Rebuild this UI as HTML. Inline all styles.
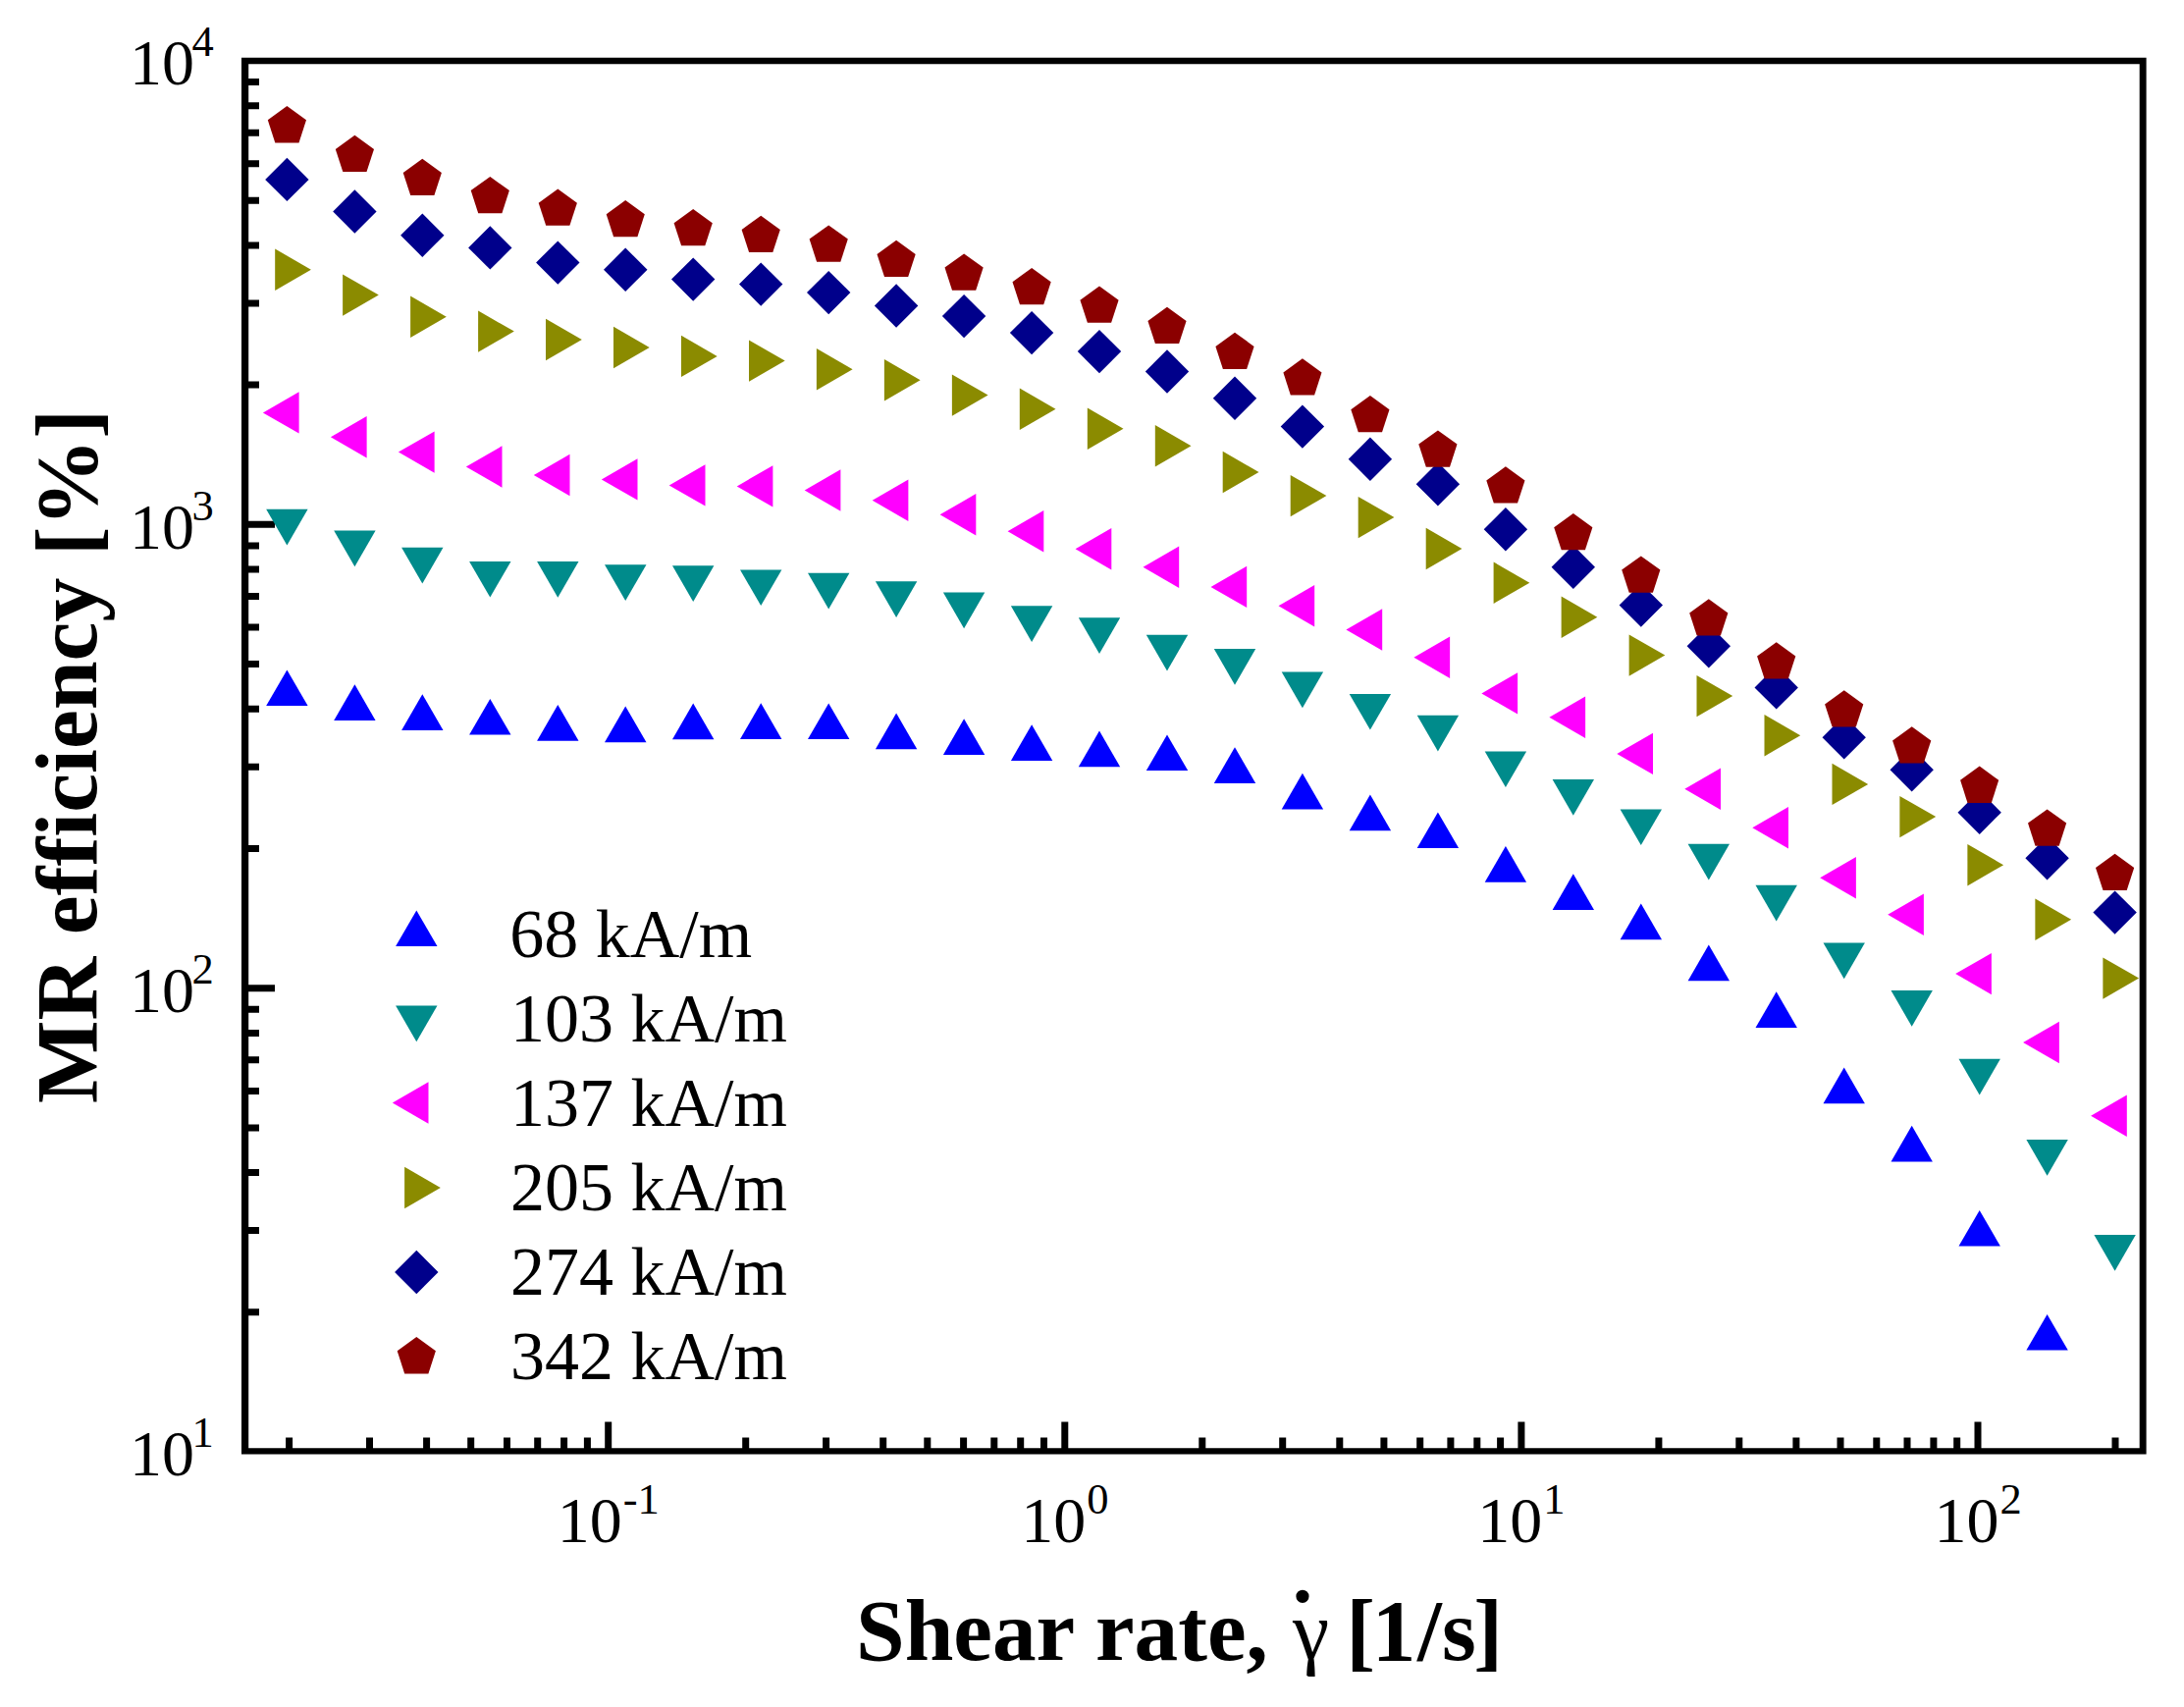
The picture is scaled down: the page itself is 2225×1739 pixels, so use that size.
<!DOCTYPE html>
<html lang="en"><head><meta charset="utf-8"><title>MR efficiency vs shear rate</title>
<style>
html,body{margin:0;padding:0;background:#fff;}
body{width:2225px;height:1739px;overflow:hidden;}
svg{display:block;}
text{font-family:"Liberation Serif","Times New Roman",serif;fill:#000;}
.tk{font-size:66px;}
.sup{font-size:44.5px;}
.lg{font-size:70px;}
.ttl{font-size:89.3px;font-weight:bold;}
.ytl{font-size:89.7px;font-weight:bold;}
</style></head>
<body>
<svg width="2225" height="1739" viewBox="0 0 2225 1739">
<rect width="2225" height="1739" fill="#fff"/>
<defs><clipPath id="cp"><rect x="253.0" y="65.5" width="1927.0" height="1410.0"/></clipPath></defs>
<path d="M249.5,1336.8h14.5M249.5,1253.6h14.5M249.5,1194.6h14.5M249.5,1148.9h14.5M249.5,1111.5h14.5M249.5,1079.8h14.5M249.5,1052.4h14.5M249.5,1028.3h14.5M249.5,1006.7h30.5M249.5,864.5h14.5M249.5,781.3h14.5M249.5,722.3h14.5M249.5,676.5h14.5M249.5,639.1h14.5M249.5,607.5h14.5M249.5,580.1h14.5M249.5,555.9h14.5M249.5,534.3h30.5M249.5,392.1h14.5M249.5,309.0h14.5M249.5,250.0h14.5M249.5,204.2h14.5M249.5,166.8h14.5M249.5,135.2h14.5M249.5,107.8h14.5M249.5,83.6h14.5M294.6,1479.0v-14.5M376.5,1479.0v-14.5M434.6,1479.0v-14.5M479.7,1479.0v-14.5M516.5,1479.0v-14.5M547.7,1479.0v-14.5M574.6,1479.0v-14.5M598.4,1479.0v-14.5M619.7,1479.0v-30.5M759.7,1479.0v-14.5M841.6,1479.0v-14.5M899.7,1479.0v-14.5M944.8,1479.0v-14.5M981.6,1479.0v-14.5M1012.8,1479.0v-14.5M1039.7,1479.0v-14.5M1063.5,1479.0v-14.5M1084.8,1479.0v-30.5M1224.8,1479.0v-14.5M1306.7,1479.0v-14.5M1364.8,1479.0v-14.5M1409.9,1479.0v-14.5M1446.7,1479.0v-14.5M1477.9,1479.0v-14.5M1504.8,1479.0v-14.5M1528.6,1479.0v-14.5M1549.9,1479.0v-30.5M1689.9,1479.0v-14.5M1771.8,1479.0v-14.5M1829.9,1479.0v-14.5M1875.0,1479.0v-14.5M1911.8,1479.0v-14.5M1943.0,1479.0v-14.5M1969.9,1479.0v-14.5M1993.7,1479.0v-14.5M2015.0,1479.0v-30.5M2155.0,1479.0v-14.5" stroke="#000" stroke-width="7" fill="none"/>
<g clip-path="url(#cp)">
<g fill="#0000ff">
<polygon points="292.4,682.4 271.2,719.1 313.6,719.1"/>
<polygon points="361.4,697.3 340.2,734.0 382.6,734.0"/>
<polygon points="430.3,707.3 409.1,744.0 451.5,744.0"/>
<polygon points="499.3,711.9 478.1,748.6 520.5,748.6"/>
<polygon points="568.3,718.1 547.1,754.8 589.5,754.8"/>
<polygon points="637.2,719.6 616.0,756.3 658.5,756.3"/>
<polygon points="706.2,716.5 685.0,753.2 727.4,753.2"/>
<polygon points="775.2,716.3 754.0,753.0 796.4,753.0"/>
<polygon points="844.2,716.4 823.0,753.1 865.4,753.1"/>
<polygon points="913.1,726.6 891.9,763.3 934.3,763.3"/>
<polygon points="982.1,732.3 960.9,769.0 1003.3,769.0"/>
<polygon points="1051.1,738.2 1029.9,774.9 1072.3,774.9"/>
<polygon points="1120.0,744.6 1098.8,781.3 1141.2,781.3"/>
<polygon points="1189.0,748.4 1167.8,785.1 1210.2,785.1"/>
<polygon points="1258.0,761.2 1236.8,797.9 1279.2,797.9"/>
<polygon points="1326.9,787.7 1305.7,824.4 1348.1,824.4"/>
<polygon points="1395.9,809.5 1374.7,846.2 1417.1,846.2"/>
<polygon points="1464.9,827.4 1443.7,864.1 1486.1,864.1"/>
<polygon points="1533.9,862.0 1512.7,898.7 1555.1,898.7"/>
<polygon points="1602.8,890.2 1581.6,926.9 1624.0,926.9"/>
<polygon points="1671.8,920.5 1650.6,957.2 1693.0,957.2"/>
<polygon points="1740.8,962.5 1719.6,999.2 1762.0,999.2"/>
<polygon points="1809.7,1010.3 1788.5,1047.0 1830.9,1047.0"/>
<polygon points="1878.7,1087.5 1857.5,1124.2 1899.9,1124.2"/>
<polygon points="1947.7,1146.7 1926.5,1183.4 1968.9,1183.4"/>
<polygon points="2016.7,1232.9 1995.5,1269.6 2037.9,1269.6"/>
<polygon points="2085.6,1338.9 2064.4,1375.6 2106.8,1375.6"/>
<polygon points="2154.6,1476.0 2133.4,1512.7 2175.8,1512.7"/>
</g>
<g fill="#008b8b">
<polygon points="292.4,555.5 271.2,518.8 313.6,518.8"/>
<polygon points="361.4,577.3 340.2,540.6 382.6,540.6"/>
<polygon points="430.3,594.5 409.1,557.8 451.5,557.8"/>
<polygon points="499.3,608.6 478.1,571.9 520.5,571.9"/>
<polygon points="568.3,608.8 547.1,572.1 589.5,572.1"/>
<polygon points="637.2,611.9 616.0,575.2 658.5,575.2"/>
<polygon points="706.2,613.0 685.0,576.3 727.4,576.3"/>
<polygon points="775.2,617.1 754.0,580.4 796.4,580.4"/>
<polygon points="844.2,620.5 823.0,583.8 865.4,583.8"/>
<polygon points="913.1,629.0 891.9,592.3 934.3,592.3"/>
<polygon points="982.1,640.3 960.9,603.6 1003.3,603.6"/>
<polygon points="1051.1,653.9 1029.9,617.2 1072.3,617.2"/>
<polygon points="1120.0,665.9 1098.8,629.2 1141.2,629.2"/>
<polygon points="1189.0,683.4 1167.8,646.7 1210.2,646.7"/>
<polygon points="1258.0,697.7 1236.8,661.0 1279.2,661.0"/>
<polygon points="1326.9,721.3 1305.7,684.6 1348.1,684.6"/>
<polygon points="1395.9,743.6 1374.7,706.9 1417.1,706.9"/>
<polygon points="1464.9,765.4 1443.7,728.7 1486.1,728.7"/>
<polygon points="1533.9,802.1 1512.7,765.4 1555.1,765.4"/>
<polygon points="1602.8,830.8 1581.6,794.1 1624.0,794.1"/>
<polygon points="1671.8,861.1 1650.6,824.4 1693.0,824.4"/>
<polygon points="1740.8,896.4 1719.6,859.7 1762.0,859.7"/>
<polygon points="1809.7,938.5 1788.5,901.8 1830.9,901.8"/>
<polygon points="1878.7,997.3 1857.5,960.6 1899.9,960.6"/>
<polygon points="1947.7,1045.7 1926.5,1009.0 1968.9,1009.0"/>
<polygon points="2016.7,1115.5 1995.5,1078.8 2037.9,1078.8"/>
<polygon points="2085.6,1197.7 2064.4,1161.0 2106.8,1161.0"/>
<polygon points="2154.6,1294.7 2133.4,1258.0 2175.8,1258.0"/>
</g>
<g fill="#ff00ff">
<polygon points="267.9,420.4 304.6,399.2 304.6,441.6"/>
<polygon points="336.9,445.2 373.6,424.0 373.6,466.4"/>
<polygon points="405.9,460.6 442.6,439.4 442.6,481.8"/>
<polygon points="474.8,475.5 511.5,454.3 511.5,496.7"/>
<polygon points="543.8,484.0 580.5,462.8 580.5,505.2"/>
<polygon points="612.8,488.4 649.5,467.2 649.5,509.6"/>
<polygon points="681.7,494.4 718.5,473.2 718.5,515.6"/>
<polygon points="750.7,495.4 787.4,474.2 787.4,516.6"/>
<polygon points="819.7,499.5 856.4,478.3 856.4,520.7"/>
<polygon points="888.7,509.8 925.4,488.6 925.4,531.0"/>
<polygon points="957.6,524.3 994.3,503.1 994.3,545.5"/>
<polygon points="1026.6,541.2 1063.3,520.0 1063.3,562.4"/>
<polygon points="1095.6,559.3 1132.3,538.1 1132.3,580.5"/>
<polygon points="1164.5,577.8 1201.2,556.6 1201.2,599.0"/>
<polygon points="1233.5,597.9 1270.2,576.7 1270.2,619.1"/>
<polygon points="1302.5,617.2 1339.2,596.0 1339.2,638.4"/>
<polygon points="1371.4,641.5 1408.2,620.3 1408.2,662.7"/>
<polygon points="1440.4,669.7 1477.1,648.5 1477.1,690.9"/>
<polygon points="1509.4,706.4 1546.1,685.2 1546.1,727.6"/>
<polygon points="1578.4,730.8 1615.1,709.6 1615.1,752.0"/>
<polygon points="1647.3,767.9 1684.0,746.7 1684.0,789.1"/>
<polygon points="1716.3,803.8 1753.0,782.6 1753.0,825.0"/>
<polygon points="1785.3,843.2 1822.0,822.0 1822.0,864.4"/>
<polygon points="1854.2,894.2 1890.9,873.0 1890.9,915.4"/>
<polygon points="1923.2,931.7 1959.9,910.5 1959.9,952.9"/>
<polygon points="1992.2,992.1 2028.9,970.9 2028.9,1013.3"/>
<polygon points="2061.1,1062.0 2097.9,1040.8 2097.9,1083.2"/>
<polygon points="2130.1,1136.8 2166.8,1115.6 2166.8,1158.0"/>
</g>
<g fill="#8b8b00">
<polygon points="316.9,274.7 280.2,253.5 280.2,295.9"/>
<polygon points="385.8,300.6 349.1,279.4 349.1,321.8"/>
<polygon points="454.8,322.7 418.1,301.5 418.1,343.9"/>
<polygon points="523.8,337.6 487.1,316.4 487.1,358.8"/>
<polygon points="592.8,346.0 556.0,324.8 556.0,367.2"/>
<polygon points="661.7,354.0 625.0,332.8 625.0,375.2"/>
<polygon points="730.7,362.9 694.0,341.7 694.0,384.1"/>
<polygon points="799.7,367.6 763.0,346.4 763.0,388.8"/>
<polygon points="868.6,376.2 831.9,355.0 831.9,397.4"/>
<polygon points="937.6,387.3 900.9,366.1 900.9,408.5"/>
<polygon points="1006.6,402.6 969.9,381.4 969.9,423.8"/>
<polygon points="1075.5,416.8 1038.8,395.6 1038.8,438.0"/>
<polygon points="1144.5,436.7 1107.8,415.5 1107.8,457.9"/>
<polygon points="1213.5,454.2 1176.8,433.0 1176.8,475.4"/>
<polygon points="1282.5,481.0 1245.7,459.8 1245.7,502.2"/>
<polygon points="1351.4,505.1 1314.7,483.9 1314.7,526.3"/>
<polygon points="1420.4,527.1 1383.7,505.9 1383.7,548.3"/>
<polygon points="1489.4,559.0 1452.7,537.8 1452.7,580.2"/>
<polygon points="1558.3,593.7 1521.6,572.5 1521.6,614.9"/>
<polygon points="1627.3,628.7 1590.6,607.5 1590.6,649.9"/>
<polygon points="1696.3,667.6 1659.6,646.4 1659.6,688.8"/>
<polygon points="1765.2,709.1 1728.5,687.9 1728.5,730.3"/>
<polygon points="1834.2,749.2 1797.5,728.0 1797.5,770.4"/>
<polygon points="1903.2,798.9 1866.5,777.7 1866.5,820.1"/>
<polygon points="1972.2,832.1 1935.4,810.9 1935.4,853.3"/>
<polygon points="2041.1,881.2 2004.4,860.0 2004.4,902.4"/>
<polygon points="2110.1,936.8 2073.4,915.6 2073.4,958.0"/>
<polygon points="2179.1,996.6 2142.4,975.4 2142.4,1017.8"/>
</g>
<g fill="#00008b">
<polygon points="292.4,160.7 314.6,182.9 292.4,205.1 270.2,182.9"/>
<polygon points="361.4,193.3 383.6,215.5 361.4,237.7 339.2,215.5"/>
<polygon points="430.3,217.5 452.5,239.7 430.3,261.9 408.1,239.7"/>
<polygon points="499.3,230.2 521.5,252.4 499.3,274.6 477.1,252.4"/>
<polygon points="568.3,245.4 590.5,267.6 568.3,289.8 546.1,267.6"/>
<polygon points="637.2,252.5 659.5,274.7 637.2,296.9 615.0,274.7"/>
<polygon points="706.2,262.4 728.4,284.6 706.2,306.8 684.0,284.6"/>
<polygon points="775.2,267.4 797.4,289.6 775.2,311.8 753.0,289.6"/>
<polygon points="844.2,275.9 866.4,298.1 844.2,320.3 822.0,298.1"/>
<polygon points="913.1,289.3 935.3,311.5 913.1,333.7 890.9,311.5"/>
<polygon points="982.1,299.9 1004.3,322.1 982.1,344.3 959.9,322.1"/>
<polygon points="1051.1,316.9 1073.3,339.1 1051.1,361.3 1028.9,339.1"/>
<polygon points="1120.0,335.9 1142.2,358.1 1120.0,380.3 1097.8,358.1"/>
<polygon points="1189.0,356.3 1211.2,378.5 1189.0,400.7 1166.8,378.5"/>
<polygon points="1258.0,383.6 1280.2,405.8 1258.0,428.0 1235.8,405.8"/>
<polygon points="1326.9,412.4 1349.1,434.6 1326.9,456.8 1304.7,434.6"/>
<polygon points="1395.9,445.6 1418.1,467.8 1395.9,490.0 1373.7,467.8"/>
<polygon points="1464.9,471.0 1487.1,493.2 1464.9,515.4 1442.7,493.2"/>
<polygon points="1533.9,517.0 1556.1,539.2 1533.9,561.4 1511.7,539.2"/>
<polygon points="1602.8,555.5 1625.0,577.7 1602.8,599.9 1580.6,577.7"/>
<polygon points="1671.8,594.4 1694.0,616.6 1671.8,638.8 1649.6,616.6"/>
<polygon points="1740.8,636.1 1763.0,658.3 1740.8,680.5 1718.6,658.3"/>
<polygon points="1809.7,678.2 1831.9,700.4 1809.7,722.6 1787.5,700.4"/>
<polygon points="1878.7,729.1 1900.9,751.3 1878.7,773.5 1856.5,751.3"/>
<polygon points="1947.7,762.0 1969.9,784.2 1947.7,806.4 1925.5,784.2"/>
<polygon points="2016.7,805.5 2038.9,827.7 2016.7,849.9 1994.5,827.7"/>
<polygon points="2085.6,852.1 2107.8,874.3 2085.6,896.5 2063.4,874.3"/>
<polygon points="2154.6,907.4 2176.8,929.6 2154.6,951.8 2132.4,929.6"/>
</g>
<g fill="#8b0000">
<polygon points="292.4,108.1 312.0,122.3 304.5,145.4 280.3,145.4 272.8,122.3"/>
<polygon points="361.4,137.8 381.0,152.0 373.5,175.1 349.3,175.1 341.8,152.0"/>
<polygon points="430.3,161.7 449.9,175.9 442.4,199.0 418.2,199.0 410.7,175.9"/>
<polygon points="499.3,179.9 518.9,194.1 511.4,217.2 487.2,217.2 479.7,194.1"/>
<polygon points="568.3,192.5 587.9,206.7 580.4,229.8 556.2,229.8 548.7,206.7"/>
<polygon points="637.2,204.0 656.8,218.2 649.4,241.3 625.1,241.3 617.7,218.2"/>
<polygon points="706.2,213.0 725.8,227.2 718.3,250.3 694.1,250.3 686.6,227.2"/>
<polygon points="775.2,219.7 794.8,233.9 787.3,257.0 763.1,257.0 755.6,233.9"/>
<polygon points="844.2,229.4 863.8,243.6 856.3,266.7 832.1,266.7 824.6,243.6"/>
<polygon points="913.1,244.8 932.7,259.0 925.2,282.1 901.0,282.1 893.5,259.0"/>
<polygon points="982.1,258.4 1001.7,272.6 994.2,295.7 970.0,295.7 962.5,272.6"/>
<polygon points="1051.1,273.0 1070.7,287.2 1063.2,310.3 1039.0,310.3 1031.5,287.2"/>
<polygon points="1120.0,291.5 1139.6,305.7 1132.1,328.8 1107.9,328.8 1100.4,305.7"/>
<polygon points="1189.0,312.8 1208.6,327.0 1201.1,350.1 1176.9,350.1 1169.4,327.0"/>
<polygon points="1258.0,338.7 1277.6,352.9 1270.1,376.0 1245.9,376.0 1238.4,352.9"/>
<polygon points="1326.9,365.3 1346.5,379.5 1339.1,402.6 1314.8,402.6 1307.4,379.5"/>
<polygon points="1395.9,403.0 1415.5,417.2 1408.0,440.3 1383.8,440.3 1376.3,417.2"/>
<polygon points="1464.9,438.4 1484.5,452.6 1477.0,475.7 1452.8,475.7 1445.3,452.6"/>
<polygon points="1533.9,475.3 1553.5,489.5 1546.0,512.6 1521.8,512.6 1514.3,489.5"/>
<polygon points="1602.8,523.0 1622.4,537.2 1614.9,560.3 1590.7,560.3 1583.2,537.2"/>
<polygon points="1671.8,566.4 1691.4,580.6 1683.9,603.7 1659.7,603.7 1652.2,580.6"/>
<polygon points="1740.8,610.2 1760.4,624.4 1752.9,647.5 1728.7,647.5 1721.2,624.4"/>
<polygon points="1809.7,654.3 1829.3,668.5 1821.8,691.6 1797.6,691.6 1790.1,668.5"/>
<polygon points="1878.7,703.2 1898.3,717.4 1890.8,740.5 1866.6,740.5 1859.1,717.4"/>
<polygon points="1947.7,740.2 1967.3,754.4 1959.8,777.5 1935.6,777.5 1928.1,754.4"/>
<polygon points="2016.7,780.6 2036.2,794.8 2028.8,817.9 2004.5,817.9 1997.1,794.8"/>
<polygon points="2085.6,824.4 2105.2,838.6 2097.7,861.7 2073.5,861.7 2066.0,838.6"/>
<polygon points="2154.6,869.7 2174.2,883.9 2166.7,907.0 2142.5,907.0 2135.0,883.9"/>
</g>
</g>
<path d="M246,58.7H2186.6V1481.6H246ZM253.2,65.3V1475.2H2179.7V65.3Z" fill="#000" fill-rule="evenodd"/>
<text class="tk" x="132" y="86.3">10<tspan class="sup" dy="-29" dx="-2.5">4</tspan></text>
<text class="tk" x="132" y="558.6">10<tspan class="sup" dy="-29" dx="-2.5">3</tspan></text>
<text class="tk" x="132" y="1031.0">10<tspan class="sup" dy="-29" dx="-2.5">2</tspan></text>
<text class="tk" x="132" y="1503.3">10<tspan class="sup" dy="-29" dx="-2.5">1</tspan></text>
<text class="tk" x="619.7" y="1570.5" text-anchor="middle">10<tspan class="sup" dy="-28.5" dx="1">-1</tspan></text>
<text class="tk" x="1084.8" y="1570.5" text-anchor="middle">10<tspan class="sup" dy="-28.5" dx="1">0</tspan></text>
<text class="tk" x="1549.9" y="1570.5" text-anchor="middle">10<tspan class="sup" dy="-28.5" dx="1">1</tspan></text>
<text class="tk" x="2015.0" y="1570.5" text-anchor="middle">10<tspan class="sup" dy="-28.5" dx="1">2</tspan></text>
<g fill="#0000ff"><polygon points="424.3,927.4 403.1,964.1 445.5,964.1"/></g>
<text class="lg" x="519.2" y="974.6">68 kA/m</text>
<g fill="#008b8b"><polygon points="424.3,1061.2 403.1,1024.5 445.5,1024.5"/></g>
<text class="lg" x="520" y="1060.7">103 kA/m</text>
<g fill="#ff00ff"><polygon points="399.8,1123.5 436.5,1102.3 436.5,1144.7"/></g>
<text class="lg" x="520" y="1146.8">137 kA/m</text>
<g fill="#8b8b00"><polygon points="448.8,1210.0 412.1,1188.8 412.1,1231.2"/></g>
<text class="lg" x="520" y="1232.9">205 kA/m</text>
<g fill="#00008b"><polygon points="424.3,1273.8 446.5,1296.0 424.3,1318.2 402.1,1296.0"/></g>
<text class="lg" x="520" y="1319.0">274 kA/m</text>
<g fill="#8b0000"><polygon points="424.3,1362.1 443.9,1376.3 436.4,1399.4 412.2,1399.4 404.7,1376.3"/></g>
<text class="lg" x="520" y="1405.1">342 kA/m</text>
<text class="ttl" x="872" y="1690.5">Shear rate,</text>
<text x="1317" y="1690" style="font-size:84px">γ</text>
<text x="1312.2" y="1680.5" style="font-size:88px;font-weight:bold">˙</text>
<text class="ttl" x="1526" y="1690.5" text-anchor="end" dx="5 -3.3 1.7 0 -2.4">[1/s]</text>
<text class="ytl" transform="translate(97.5,770.5) rotate(-90)" text-anchor="middle">MR efficiency [%]</text>
</svg>
</body></html>
